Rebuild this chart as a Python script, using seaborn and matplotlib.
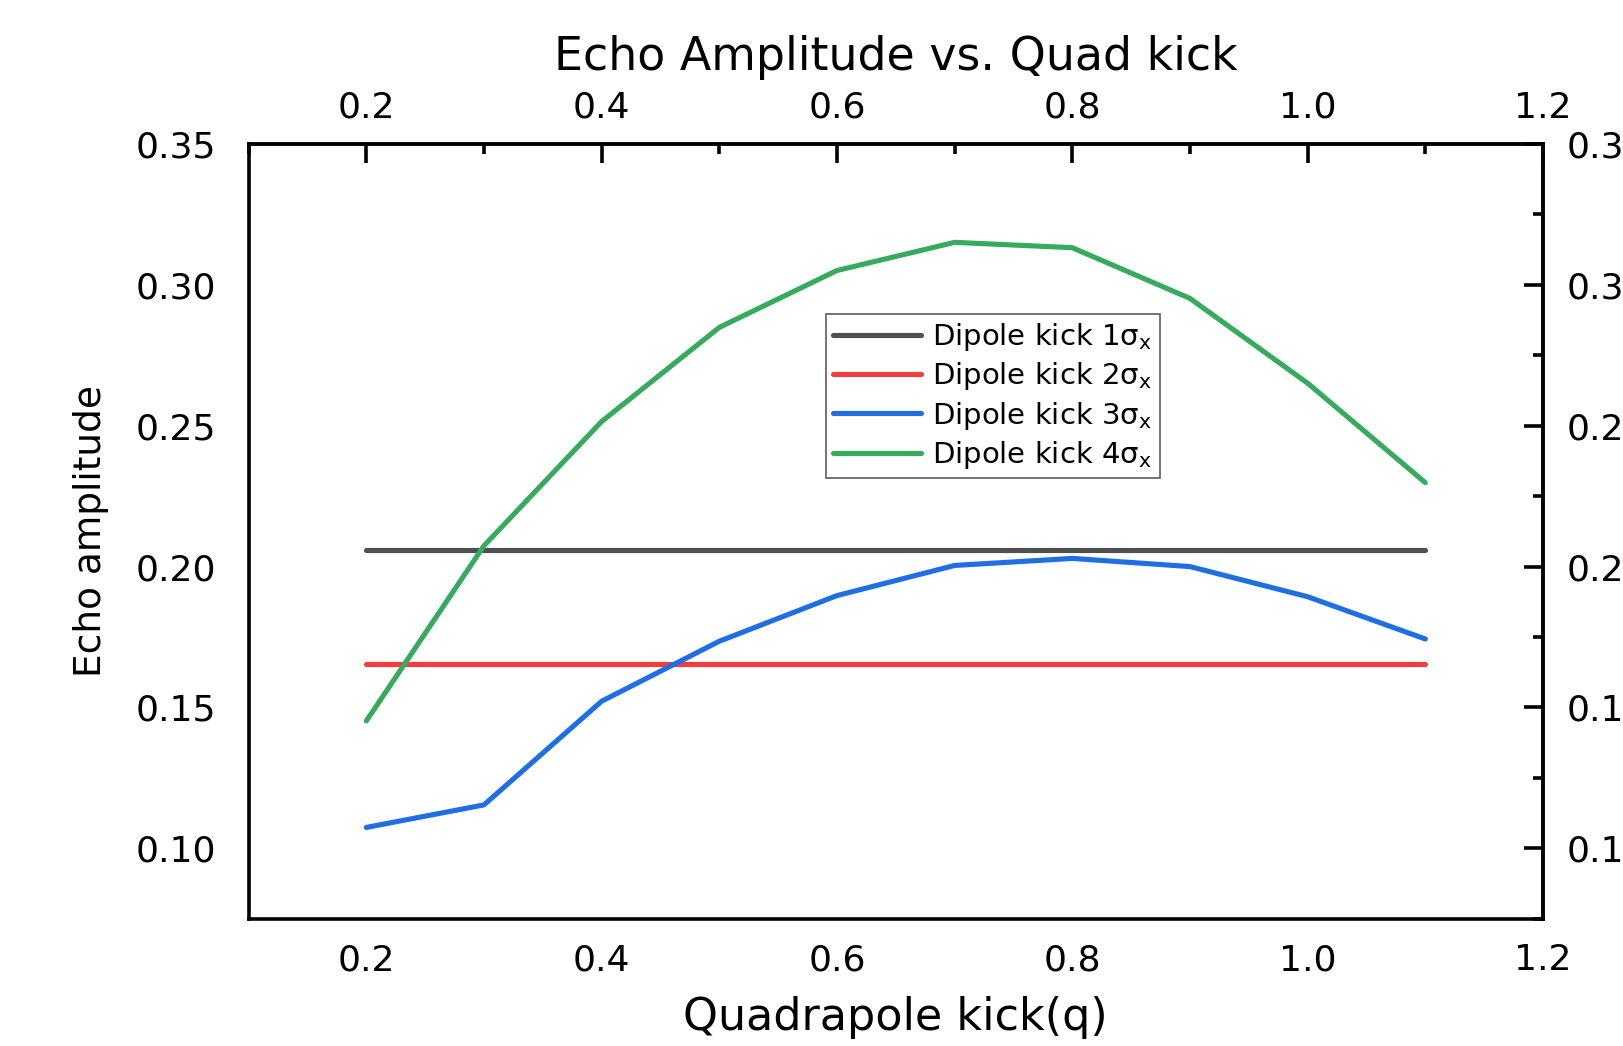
import numpy as np
import pandas as pd
import matplotlib
matplotlib.use("Agg")
import matplotlib.pyplot as plt
from matplotlib.ticker import MultipleLocator, FormatStrFormatter
import seaborn as sns

# ---- data ----
q = [0.2, 0.3, 0.4, 0.5, 0.6, 0.7, 0.8, 0.9, 1.0, 1.1]
dipole1 = [0.206] * 10
dipole2 = [0.1655] * 10
dipole3 = [0.1074, 0.1154, 0.1522, 0.1735, 0.1897, 0.2004, 0.2029, 0.2000, 0.1893, 0.1743]
dipole4 = [0.1452, 0.2074, 0.2515, 0.2849, 0.3051, 0.3151, 0.3132, 0.2952, 0.2651, 0.2298]
labels = ['Dipole kick 1σ$_\\mathrm{x}$', 'Dipole kick 2σ$_\\mathrm{x}$',
          'Dipole kick 3σ$_\\mathrm{x}$', 'Dipole kick 4σ$_\\mathrm{x}$']
colors = ['#4f4f4f', '#f23d3d', '#1f6fe3', '#37aa5e']
title = 'Echo Amplitude vs. Quad kick'
xlabel = 'Quadrapole kick(q)'
ylabel = 'Echo amplitude'

sns.set_style('white')
plt.rcParams['font.family'] = ['DejaVu Sans']
plt.rcParams['mathtext.fontset'] = 'dejavusans'
plt.rcParams['text.color'] = 'black'
plt.rcParams['axes.labelcolor'] = 'black'
plt.rcParams['xtick.color'] = 'black'
plt.rcParams['ytick.color'] = 'black'

fig = plt.figure(figsize=(16.24, 10.46), dpi=100)
ax = fig.add_axes([0.1531, 0.1217, 0.797, 0.7406])

for vals, lab, col in zip([dipole1, dipole2, dipole3, dipole4], labels, colors):
    df = pd.DataFrame({'q': q, 'amp': vals})
    sns.lineplot(data=df, x='q', y='amp', ax=ax, color=col, lw=3.7, label=lab,
                 solid_capstyle='round')

ax.set_xlim(0.1, 1.2)
ax.set_ylim(0.075, 0.35)

LW = 2.6
for s in ax.spines.values():
    s.set_linewidth(LW)
    s.set_color('black')

ax.xaxis.set_major_locator(MultipleLocator(0.2))
ax.xaxis.set_minor_locator(MultipleLocator(0.1))
ax.yaxis.set_major_locator(MultipleLocator(0.05))
ax.yaxis.set_minor_locator(MultipleLocator(0.025))
ax.xaxis.set_major_formatter(FormatStrFormatter('%.1f'))
ax.yaxis.set_major_formatter(FormatStrFormatter('%.2f'))
ax.tick_params(axis='both', which='major', direction='out', length=13.5, width=LW,
               labelsize=26, colors='black')
ax.tick_params(axis='both', which='minor', direction='out', length=7, width=LW)
ax.tick_params(axis='x', which='major', pad=4)
ax.tick_params(axis='y', which='major', pad=10)

# top axis
top = ax.secondary_xaxis('top')
top.xaxis.set_major_locator(MultipleLocator(0.2))
top.xaxis.set_minor_locator(MultipleLocator(0.1))
top.xaxis.set_major_formatter(FormatStrFormatter('%.1f'))
top.tick_params(which='major', direction='in', length=13.5, width=LW, labelsize=26, pad=14,
                colors='black')
top.tick_params(which='minor', direction='in', length=7, width=LW)
top.spines['top'].set_linewidth(LW)

# right axis
right = ax.secondary_yaxis('right')
right.yaxis.set_major_locator(MultipleLocator(0.05))
right.yaxis.set_minor_locator(MultipleLocator(0.025))
right.yaxis.set_major_formatter(FormatStrFormatter('%.2f'))
right.tick_params(which='major', direction='in', length=13.5, width=LW, labelsize=26, pad=17,
                  colors='black')
right.tick_params(which='minor', direction='in', length=7, width=LW)
right.spines['right'].set_linewidth(LW)

ax.set_xlabel(xlabel, fontsize=32, color='black')
ax.set_ylabel(ylabel, fontsize=27, color='black')
ax.xaxis.set_label_coords(0.5, -0.127)
ax.xaxis.label.set_va('center')
ax.yaxis.set_label_coords(-0.1218, 0.5)
ax.yaxis.label.set_va('center')

ax.text(0.5, 1.112, title, transform=ax.transAxes, ha='center', va='center',
        fontsize=33, color='black')

leg = ax.legend(loc='upper left', bbox_to_anchor=(0.446, 0.781), borderaxespad=0,
                fontsize=21, frameon=True, fancybox=False, handlelength=3.0,
                labelspacing=0.25, handletextpad=0.4, borderpad=0.25)
leg.get_frame().set_edgecolor('#333333')
leg.get_frame().set_linewidth(1.2)
for line in leg.get_lines():
    line.set_linewidth(3.7)
for t in leg.get_texts():
    t.set_color('black')

fig.savefig('out.png', dpi=100)
